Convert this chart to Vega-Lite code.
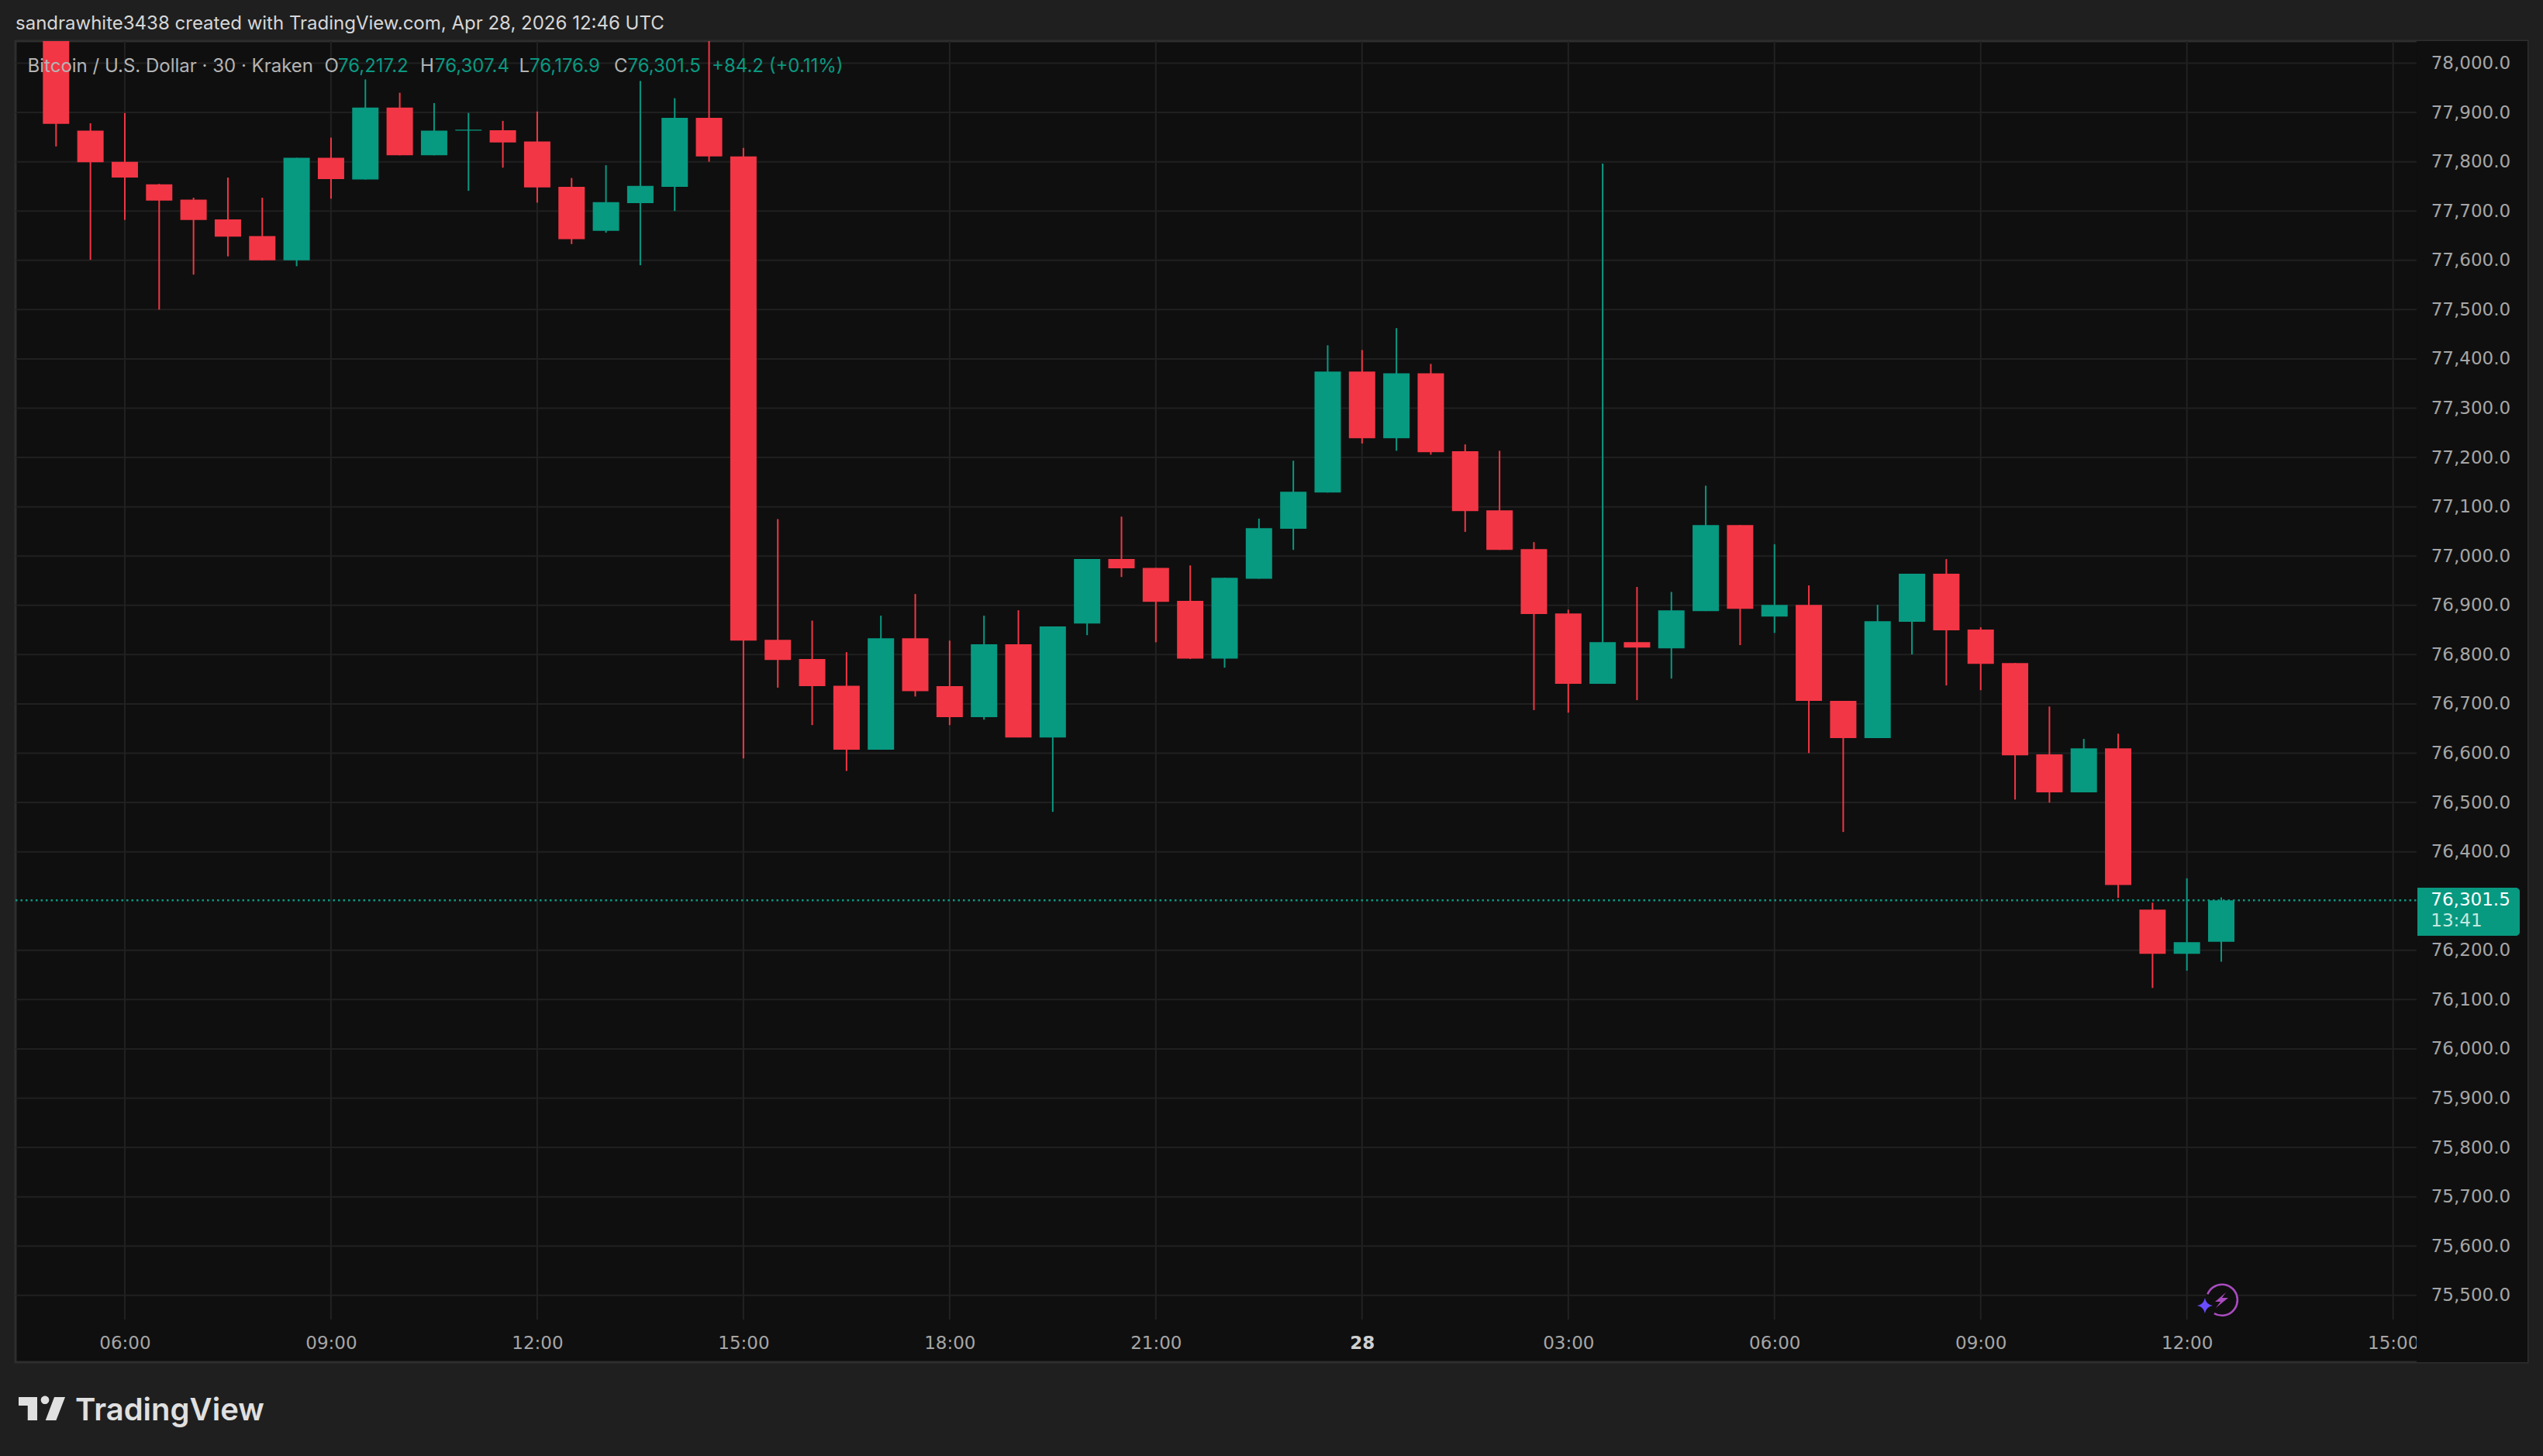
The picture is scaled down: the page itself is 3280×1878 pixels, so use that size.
{
"$schema":"https://vega.github.io/schema/vega-lite/v6.json",
"width":3240,"height":1704,
"autosize":{"type":"none"},
"padding":{"left":20,"top":53,"right":20,"bottom":121},
"background":"#1f1f1f",
"view":{"fill":"#0f0f0f","stroke":"#2e2e2e","strokeWidth":3},
"title":{"text":"sandrawhite3438 created with TradingView.com, Apr 28, 2026 12:46 UTC","anchor":"start","frame":"group","orient":"top","offset":9,"font":"Inter","fontSize":24,"fontWeight":"normal","color":"#d6d6d6"},
"datasets":{
"candles":[
{"t":"2026-04-27T05:00:00Z","open":78123,"high":78153,"low":77831,"close":77877},
{"t":"2026-04-27T05:30:00Z","open":77863,"high":77878,"low":77601,"close":77799},
{"t":"2026-04-27T06:00:00Z","open":77800,"high":77899,"low":77682,"close":77768},
{"t":"2026-04-27T06:30:00Z","open":77754,"high":77755,"low":77500,"close":77721},
{"t":"2026-04-27T07:00:00Z","open":77723,"high":77727,"low":77571,"close":77682},
{"t":"2026-04-27T07:30:00Z","open":77683,"high":77768,"low":77608,"close":77648},
{"t":"2026-04-27T08:00:00Z","open":77649,"high":77727,"low":77600,"close":77600},
{"t":"2026-04-27T08:30:00Z","open":77600,"high":77808,"low":77588,"close":77808},
{"t":"2026-04-27T09:00:00Z","open":77808,"high":77849,"low":77725,"close":77765},
{"t":"2026-04-27T09:30:00Z","open":77764,"high":77967,"low":77764,"close":77910},
{"t":"2026-04-27T10:00:00Z","open":77910,"high":77940,"low":77813,"close":77813},
{"t":"2026-04-27T10:30:00Z","open":77813,"high":77919,"low":77813,"close":77863},
{"t":"2026-04-27T11:00:00Z","open":77863,"high":77899,"low":77741,"close":77865},
{"t":"2026-04-27T11:30:00Z","open":77864,"high":77883,"low":77788,"close":77839},
{"t":"2026-04-27T12:00:00Z","open":77841,"high":77902,"low":77717,"close":77748},
{"t":"2026-04-27T12:30:00Z","open":77749,"high":77767,"low":77633,"close":77643},
{"t":"2026-04-27T13:00:00Z","open":77660,"high":77793,"low":77656,"close":77718},
{"t":"2026-04-27T13:30:00Z","open":77716,"high":77964,"low":77590,"close":77751},
{"t":"2026-04-27T14:00:00Z","open":77749,"high":77929,"low":77700,"close":77889},
{"t":"2026-04-27T14:30:00Z","open":77889,"high":78100,"low":77800,"close":77811},
{"t":"2026-04-27T15:00:00Z","open":77811,"high":77828,"low":76589.5,"close":76828.5},
{"t":"2026-04-27T15:30:00Z","open":76830,"high":77075,"low":76733,"close":76789},
{"t":"2026-04-27T16:00:00Z","open":76791,"high":76869,"low":76657,"close":76736},
{"t":"2026-04-27T16:30:00Z","open":76737,"high":76805,"low":76564,"close":76607},
{"t":"2026-04-27T17:00:00Z","open":76607,"high":76879,"low":76607,"close":76833},
{"t":"2026-04-27T17:30:00Z","open":76833,"high":76923,"low":76715,"close":76726},
{"t":"2026-04-27T18:00:00Z","open":76736,"high":76828.5,"low":76657,"close":76673},
{"t":"2026-04-27T18:30:00Z","open":76673,"high":76879,"low":76668,"close":76821},
{"t":"2026-04-27T19:00:00Z","open":76821,"high":76890,"low":76632,"close":76632},
{"t":"2026-04-27T19:30:00Z","open":76632,"high":76857,"low":76481,"close":76857},
{"t":"2026-04-27T20:00:00Z","open":76863,"high":76994,"low":76839.5,"close":76994},
{"t":"2026-04-27T20:30:00Z","open":76994,"high":77080,"low":76957.5,"close":76975},
{"t":"2026-04-27T21:00:00Z","open":76976,"high":76976,"low":76825,"close":76907},
{"t":"2026-04-27T21:30:00Z","open":76909,"high":76981,"low":76791,"close":76792},
{"t":"2026-04-27T22:00:00Z","open":76792,"high":76956,"low":76773.5,"close":76956},
{"t":"2026-04-27T22:30:00Z","open":76954,"high":77076,"low":76954,"close":77056.5},
{"t":"2026-04-27T23:00:00Z","open":77055.2,"high":77193.4,"low":77012.5,"close":77130.5},
{"t":"2026-04-27T23:30:00Z","open":77128.8,"high":77427.6,"low":77128.8,"close":77374.2},
{"t":"2026-04-28T00:00:00Z","open":77374.2,"high":77418,"low":77228.2,"close":77238.9},
{"t":"2026-04-28T00:30:00Z","open":77238.9,"high":77462.4,"low":77213.6,"close":77370.8},
{"t":"2026-04-28T01:00:00Z","open":77370.8,"high":77389.9,"low":77205.7,"close":77210.8},
{"t":"2026-04-28T01:30:00Z","open":77212.5,"high":77226.5,"low":77049,"close":77091.2},
{"t":"2026-04-28T02:00:00Z","open":77092.8,"high":77213.6,"low":77012.5,"close":77012.5},
{"t":"2026-04-28T02:30:00Z","open":77014.2,"high":77028.3,"low":76687.4,"close":76882.2},
{"t":"2026-04-28T03:00:00Z","open":76883.4,"high":76891.2,"low":76682.3,"close":76740.7},
{"t":"2026-04-28T03:30:00Z","open":76740.7,"high":77796.3,"low":76740.7,"close":76825.5},
{"t":"2026-04-28T04:00:00Z","open":76825.5,"high":76937.3,"low":76707.6,"close":76814.3},
{"t":"2026-04-28T04:30:00Z","open":76812.6,"high":76927.2,"low":76751.4,"close":76890},
{"t":"2026-04-28T05:00:00Z","open":76888.4,"high":77142.8,"low":76888.4,"close":77063},
{"t":"2026-04-28T05:30:00Z","open":77063,"high":77063,"low":76819.3,"close":76892.9},
{"t":"2026-04-28T06:00:00Z","open":76877.2,"high":77023.8,"low":76844,"close":76900.8},
{"t":"2026-04-28T06:30:00Z","open":76901,"high":76940.4,"low":76600.3,"close":76706},
{"t":"2026-04-28T07:00:00Z","open":76706,"high":76706,"low":76440.1,"close":76630.6},
{"t":"2026-04-28T07:30:00Z","open":76630.6,"high":76901,"low":76630.6,"close":76867.9},
{"t":"2026-04-28T08:00:00Z","open":76866.7,"high":76964,"low":76800.4,"close":76964},
{"t":"2026-04-28T08:30:00Z","open":76964,"high":76993.8,"low":76737.4,"close":76849.3},
{"t":"2026-04-28T09:00:00Z","open":76851,"high":76855.5,"low":76727.9,"close":76781.3},
{"t":"2026-04-28T09:30:00Z","open":76783,"high":76783,"low":76505.9,"close":76595.8},
{"t":"2026-04-28T10:00:00Z","open":76597.5,"high":76694.7,"low":76499.7,"close":76520.5},
{"t":"2026-04-28T10:30:00Z","open":76520.5,"high":76629,"low":76520.5,"close":76609.8},
{"t":"2026-04-28T11:00:00Z","open":76609.8,"high":76639.6,"low":76306.3,"close":76332.7},
{"t":"2026-04-28T11:30:00Z","open":76282.7,"high":76296.8,"low":76123.7,"close":76193},
{"t":"2026-04-28T12:00:00Z","open":76193,"high":76346.2,"low":76158.8,"close":76216.6},
{"t":"2026-04-28T12:30:00Z","open":76217.2,"high":76307.4,"low":76176.9,"close":76301.5}
],
"ticks":[
{"t":"2026-04-27T06:00:00Z"},{"t":"2026-04-27T09:00:00Z"},{"t":"2026-04-27T12:00:00Z"},{"t":"2026-04-27T15:00:00Z"},{"t":"2026-04-27T18:00:00Z"},{"t":"2026-04-27T21:00:00Z"},{"t":"2026-04-28T00:00:00Z"},{"t":"2026-04-28T03:00:00Z"},{"t":"2026-04-28T06:00:00Z"},{"t":"2026-04-28T09:00:00Z"},{"t":"2026-04-28T12:00:00Z"},{"t":"2026-04-28T15:00:00Z"}
],
"levels":[
{"t":"2026-04-27T04:24:36Z","t2":"2026-04-28T15:20:30Z","v":75500},{"t":"2026-04-27T04:24:36Z","t2":"2026-04-28T15:20:30Z","v":75600},{"t":"2026-04-27T04:24:36Z","t2":"2026-04-28T15:20:30Z","v":75700},{"t":"2026-04-27T04:24:36Z","t2":"2026-04-28T15:20:30Z","v":75800},{"t":"2026-04-27T04:24:36Z","t2":"2026-04-28T15:20:30Z","v":75900},{"t":"2026-04-27T04:24:36Z","t2":"2026-04-28T15:20:30Z","v":76000},{"t":"2026-04-27T04:24:36Z","t2":"2026-04-28T15:20:30Z","v":76100},{"t":"2026-04-27T04:24:36Z","t2":"2026-04-28T15:20:30Z","v":76200},{"t":"2026-04-27T04:24:36Z","t2":"2026-04-28T15:20:30Z","v":76400},{"t":"2026-04-27T04:24:36Z","t2":"2026-04-28T15:20:30Z","v":76500},{"t":"2026-04-27T04:24:36Z","t2":"2026-04-28T15:20:30Z","v":76600},{"t":"2026-04-27T04:24:36Z","t2":"2026-04-28T15:20:30Z","v":76700},{"t":"2026-04-27T04:24:36Z","t2":"2026-04-28T15:20:30Z","v":76800},{"t":"2026-04-27T04:24:36Z","t2":"2026-04-28T15:20:30Z","v":76900},{"t":"2026-04-27T04:24:36Z","t2":"2026-04-28T15:20:30Z","v":77000},{"t":"2026-04-27T04:24:36Z","t2":"2026-04-28T15:20:30Z","v":77100},{"t":"2026-04-27T04:24:36Z","t2":"2026-04-28T15:20:30Z","v":77200},{"t":"2026-04-27T04:24:36Z","t2":"2026-04-28T15:20:30Z","v":77300},{"t":"2026-04-27T04:24:36Z","t2":"2026-04-28T15:20:30Z","v":77400},{"t":"2026-04-27T04:24:36Z","t2":"2026-04-28T15:20:30Z","v":77500},{"t":"2026-04-27T04:24:36Z","t2":"2026-04-28T15:20:30Z","v":77600},{"t":"2026-04-27T04:24:36Z","t2":"2026-04-28T15:20:30Z","v":77700},{"t":"2026-04-27T04:24:36Z","t2":"2026-04-28T15:20:30Z","v":77800},{"t":"2026-04-27T04:24:36Z","t2":"2026-04-28T15:20:30Z","v":77900},{"t":"2026-04-27T04:24:36Z","t2":"2026-04-28T15:20:30Z","v":78000}
],
"legendText":[
{"label":"Bitcoin / U.S. Dollar · 30 · Kraken","t":"2026-04-27T04:35:07Z","v":77993,"tone":"name"},
{"label":"O","t":"2026-04-27T08:54:18Z","v":77993,"tone":"name"},
{"label":"76,217.2","t":"2026-04-27T09:06:07Z","v":77993,"tone":"value"},
{"label":"H","t":"2026-04-27T10:17:53Z","v":77993,"tone":"name"},
{"label":"76,307.4","t":"2026-04-27T10:30:43Z","v":77993,"tone":"value"},
{"label":"L","t":"2026-04-27T11:44:10Z","v":77993,"tone":"name"},
{"label":"76,176.9","t":"2026-04-27T11:53:18Z","v":77993,"tone":"value"},
{"label":"C","t":"2026-04-27T13:07:05Z","v":77993,"tone":"name"},
{"label":"76,301.5","t":"2026-04-27T13:18:54Z","v":77993,"tone":"value"},
{"label":"+84.2 (+0.11%)","t":"2026-04-27T14:32:20Z","v":77993,"tone":"value"}
]
},
"data":{"name":"candles"},
"encoding":{
"x":{"field":"t","type":"temporal","title":null,
"scale":{"type":"utc","padding":0,"nice":false,"domain":["2026-04-27T04:24:36Z","2026-04-28T16:57:18Z"]},
"axis":{"title":null,"orient":"bottom","grid":false,"ticks":false,"domain":false,"zindex":0,"labelPadding":-25,"labelBaseline":"middle","labelFont":"DejaVu Sans","labelFontSize":23,"labelOverlap":false,"labelFlush":false,"labelBound":false,
"labelColor":{"condition":{"test":"utchours(datum.value)===0","value":"#d0d0d0"},"value":"#a6a6a6"},
"labelFontWeight":{"condition":{"test":"utchours(datum.value)===0","value":"bold"},"value":"normal"},
"values":["2026-04-27T06:00:00Z","2026-04-27T09:00:00Z","2026-04-27T12:00:00Z","2026-04-27T15:00:00Z","2026-04-27T18:00:00Z","2026-04-27T21:00:00Z","2026-04-28T00:00:00Z","2026-04-28T03:00:00Z","2026-04-28T06:00:00Z","2026-04-28T09:00:00Z","2026-04-28T12:00:00Z","2026-04-28T15:00:00Z"],
"labelExpr":"utchours(datum.value)===0 ? utcFormat(datum.value,'%-d') : utcFormat(datum.value,'%H:%M')"}}
},
"layer":[
{"data":{"name":"ticks"},"mark":{"type":"rule","color":"#222222","strokeWidth":2},
"encoding":{
"y":{"datum":75450.8,"type":"quantitative","title":null,
"scale":{"domain":[75364.4,78044.8],"nice":false,"zero":false},
"axis":{"title":null,"orient":"right","grid":false,"ticks":false,"domain":false,"zindex":1,"labelPadding":-22.4,"labelAlign":"right","labelBaseline":"middle","labelFont":"DejaVu Sans","labelFontSize":23,"labelColor":"#a6a6a6","labelOverlap":false,"labelFlush":false,"labelBound":false,
"values":[75500,75600,75700,75800,75900,76000,76100,76200,76400,76500,76600,76700,76800,76900,77000,77100,77200,77300,77400,77500,77600,77700,77800,77900,78000],
"format":",.1f"}},
"y2":{"datum":78044.8}}},
{"data":{"name":"levels"},"mark":{"type":"rule","color":"#202020","strokeWidth":2},
"encoding":{"x2":{"field":"t2"},"y":{"field":"v","type":"quantitative","title":null,"scale":{"domain":[75364.4,78044.8],"nice":false,"zero":false}}}},
{"data":{"values":[{"t":"2026-04-27T04:24:36Z","t2":"2026-04-28T15:20:30Z"}]},
"mark":{"type":"rule","color":"#089981","strokeWidth":2.5,"strokeDash":[2.5,4]},
"encoding":{"x2":{"field":"t2"},"y":{"datum":76301.5,"type":"quantitative","title":null,"scale":{"domain":[75364.4,78044.8],"nice":false,"zero":false}}}},
{"mark":{"type":"rule","strokeWidth":2,"clip":true},
"encoding":{"y":{"field":"low","type":"quantitative","title":null,"scale":{"domain":[75364.4,78044.8],"nice":false,"zero":false}},"y2":{"field":"high"},
"color":{"condition":{"test":"datum.close>=datum.open","value":"#089981"},"value":"#F23645"}}},
{"mark":{"type":"bar","size":34,"clip":true},
"encoding":{"y":{"field":"open","type":"quantitative","title":null,"scale":{"domain":[75364.4,78044.8],"nice":false,"zero":false}},"y2":{"field":"close"},
"color":{"condition":{"test":"datum.close>=datum.open","value":"#089981"},"value":"#F23645"}}},
{"data":{"values":[{"t":"2026-04-28T15:20:30Z","t2":"2026-04-28T16:57:18Z","v":75364.4,"v2":78044.8}]},
"mark":{"type":"rect","color":"#0f0f0f"},
"encoding":{"x2":{"field":"t2"},"y":{"field":"v","type":"quantitative","title":null,"scale":{"domain":[75364.4,78044.8],"nice":false,"zero":false}},"y2":{"field":"v2"}}},
{"data":{"values":[{"t":"2026-04-28T15:21:11Z","t2":"2026-04-28T16:50:32Z","v":76229.5,"v2":76327}]},
"mark":{"type":"rect","color":"#089981","cornerRadiusTopRight":5,"cornerRadiusBottomRight":5},
"encoding":{"x2":{"field":"t2"},"y":{"field":"v","type":"quantitative","title":null,"scale":{"domain":[75364.4,78044.8],"nice":false,"zero":false}},"y2":{"field":"v2"}}},
{"data":{"values":[{"label":"76,301.5","t":"2026-04-28T15:32:56Z","v":76302.4,"tone":"price"},{"label":"13:41","t":"2026-04-28T15:32:56Z","v":76259,"tone":"timer"}]},
"mark":{"type":"text","align":"left","baseline":"middle","font":"DejaVu Sans","fontSize":23},
"encoding":{"y":{"field":"v","type":"quantitative","title":null,"scale":{"domain":[75364.4,78044.8],"nice":false,"zero":false}},"text":{"field":"label"},
"color":{"field":"tone","type":"nominal","legend":null,"scale":{"domain":["price","timer","name","value"],"range":["#ffffff","#c4e8df","#b4b4b4","#089981"]}}}},
{"data":{"name":"legendText"},
"mark":{"type":"text","align":"left","baseline":"middle","font":"Inter","fontSize":24},
"encoding":{"y":{"field":"v","type":"quantitative","title":null,"scale":{"domain":[75364.4,78044.8],"nice":false,"zero":false}},"text":{"field":"label"},
"color":{"field":"tone","type":"nominal","legend":null,"scale":{"domain":["price","timer","name","value"],"range":["#ffffff","#c4e8df","#b4b4b4","#089981"]}}}},
{"data":{"values":[{"label":"TradingView","t":"2026-04-27T05:16:44Z","v":75246.9}]},
"mark":{"type":"text","align":"left","baseline":"alphabetic","font":"Inter","fontSize":40,"fontWeight":600,"color":"#e0e0e0"},
"encoding":{"y":{"field":"v","type":"quantitative","title":null,"scale":{"domain":[75364.4,78044.8],"nice":false,"zero":false}},"text":{"field":"label"}}},
{"data":{"values":[{"t":"2026-04-27T04:47:38Z","v":75270}]},
"mark":{"type":"point","filled":true,"size":3721,"opacity":1,"color":"#e0e0e0","shape":"M-0.984,-0.492L-0.197,-0.492L-0.197,0.492L-0.6,0.492L-0.6,-0.131L-0.984,-0.131ZM0.525,-0.492L0.984,-0.492L0.603,0.492L0.154,0.492ZM-0.044,-0.37A0.175,0.175 0 1 1 0.306,-0.37A0.175,0.175 0 1 1 -0.044,-0.37Z"},
"encoding":{"y":{"field":"v","type":"quantitative","title":null,"scale":{"domain":[75364.4,78044.8],"nice":false,"zero":false}}}},
{"data":{"values":[{"t":"2026-04-28T12:30:36Z","v":75490.6}]},
"mark":{"type":"point","filled":true,"shape":"circle","size":1810,"opacity":1,"color":"#0f0f0f"},
"encoding":{"y":{"field":"v","type":"quantitative","title":null,"scale":{"domain":[75364.4,78044.8],"nice":false,"zero":false}}}},
{"data":{"values":[{"t":"2026-04-28T12:30:36Z","v":75490.6}]},
"mark":{"type":"point","filled":false,"size":1600,"opacity":1,"strokeWidth":2.6,"color":"#a94cbf","shape":"M-0.93,-0.37A1,1 0 1 1 -0.5,0.866"},
"encoding":{"y":{"field":"v","type":"quantitative","title":null,"scale":{"domain":[75364.4,78044.8],"nice":false,"zero":false}}}},
{"data":{"values":[{"t":"2026-04-28T12:30:00Z","v":75490.2}]},
"mark":{"type":"point","filled":true,"size":400,"opacity":1,"color":"#a94cbf","shape":"M0.6,-1L-0.8,0.2L-0.1,0.2L-0.7,1L0.9,-0.3L0.1,-0.3Z"},
"encoding":{"y":{"field":"v","type":"quantitative","title":null,"scale":{"domain":[75364.4,78044.8],"nice":false,"zero":false}}}},
{"data":{"values":[{"t":"2026-04-28T12:15:43Z","v":75479.2}]},
"mark":{"type":"point","filled":true,"size":400,"opacity":1,"color":"#6a4cff","shape":"M0,-1Q0.15,-0.15 1,0Q0.15,0.15 0,1Q-0.15,0.15 -1,0Q-0.15,-0.15 0,-1Z"},
"encoding":{"y":{"field":"v","type":"quantitative","title":null,"scale":{"domain":[75364.4,78044.8],"nice":false,"zero":false}}}}
]
}
